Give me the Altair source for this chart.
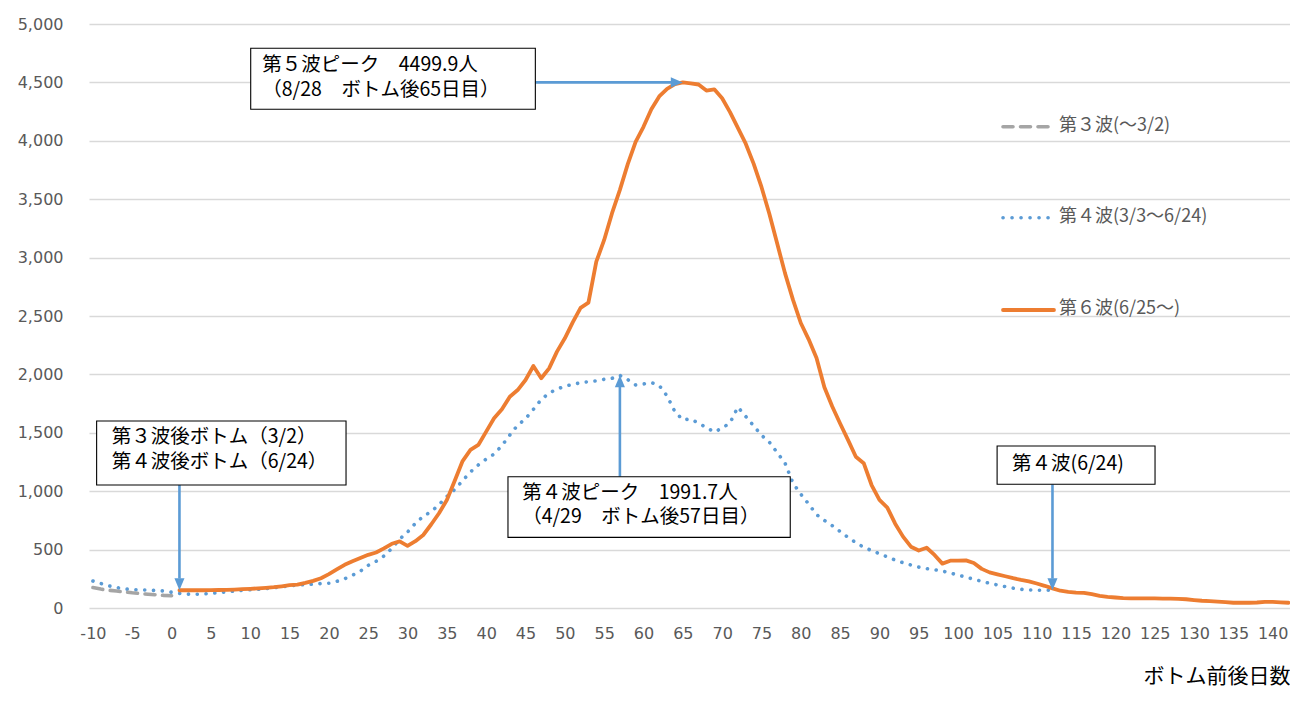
import altair as alt
import pandas as pd

# ---------------- data ----------------
days_w3 = list(range(-10, 1))
wave3 = [175, 162, 152, 145, 138, 130, 124, 118, 113, 108, 105]

days_w4 = list(range(-10, 113))
wave4 = [231, 210, 190, 175, 163, 158, 155, 153, 150, 146,
         135, 125, 119, 117, 120, 125, 132, 138, 145, 151,
         156, 160, 166, 173, 182, 190, 196, 200, 204, 209,
         212, 228, 250, 280, 315, 365, 400, 445, 510, 590,
         650, 725, 785, 825, 885, 955, 1015, 1090, 1165, 1225,
         1275, 1318, 1390, 1480, 1565, 1620, 1700, 1785, 1840, 1875,
         1898, 1915, 1928, 1938, 1945, 1958, 1966, 1991.7, 1955, 1910,
         1918, 1930, 1905, 1815, 1680, 1612, 1618, 1583, 1545, 1507,
         1540, 1585, 1720, 1640, 1560, 1480, 1420, 1330, 1240, 1070,
         975, 890, 800, 750, 705, 655, 605, 560, 520, 492,
         465, 437, 410, 388, 368, 350, 337, 328, 316, 300,
         282, 264, 246, 228, 212, 197, 183, 170, 160, 154,
         152, 152, 152]

days_w6 = list(range(1, 143))
wave6 = [152, 152, 152, 152, 153, 154, 156, 158, 161, 164,
         168, 173, 178, 186, 195, 200, 215, 232, 255, 290,
         330, 370, 400, 428, 455, 475, 510, 550, 570, 532,
         572, 625, 715, 811, 925, 1090, 1258, 1353, 1396, 1510,
         1624, 1701, 1809, 1866, 1952, 2072, 1967, 2052, 2195, 2309,
         2445, 2570, 2614, 2965, 3151, 3380, 3580, 3800, 3990, 4120,
         4270, 4380, 4445, 4485, 4499.9, 4492, 4482, 4430, 4441, 4364,
         4245, 4110, 3975, 3805, 3605, 3375, 3120, 2865, 2640, 2440,
         2300, 2140, 1890, 1725, 1580, 1440, 1295, 1240, 1053, 925,
         860, 722, 611, 525, 492, 516, 454, 380, 405, 405,
         408, 385, 335, 305, 288, 272, 255, 240, 228, 210,
         190, 168, 148, 138, 132, 130, 118, 103, 95, 90,
         85, 83, 83, 83, 82, 80, 80, 78, 75, 68,
         62, 58, 55, 50, 45, 45, 45, 47, 52, 52,
         48, 45]

x_ticks = list(range(-10, 141, 5))
y_ticks = list(range(0, 5001, 500))

legend_labels = ["第３波(～3/2)", "第４波(3/3～6/24)", "第６波(6/25～)"]
x_title = "ボトム前後日数"

# annotation boxes (data coordinates)
box_x1 = [-9.53, 42.77, 10.06, 104.96]
box_x2 = [22.18, 78.66, 46.25, 125.04]
box_y1 = [1053, 605, 4270, 1059]
box_y2 = [1601, 1124, 4792, 1387]

note_x = [-7.61, -7.61, 44.57, 44.57, 11.53, 11.53, 106.86]
note_y = [1461, 1253, 987, 782, 4649, 4435, 1230]
note_text = ["第３波後ボトム（3/2）", "第４波後ボトム（6/24）",
             "第４波ピーク　1991.7人", "（4/29　ボトム後57日目）",
             "第５波ピーク　4499.9人", "（8/28　ボトム後65日目）",
             "第４波(6/24)"]

# vertical arrows
varrow_x = [1, 57, 112]
varrow_from = [1053, 1124, 1059]
varrow_to = [252, 1892, 252]
# horizontal arrow
harrow_y = [4499.9]
harrow_from = [46.25]
harrow_to = [63.5]
# arrow tips
tip_down_x = [1, 112]
tip_down_y = [152, 152]
tip_up_x = [57]
tip_up_y = [1991.7]
tip_right_x = [65]
tip_right_y = [4499.9]

# ---------------- styles ----------------
ORANGE = "#ED7D31"
BLUE = "#5B9BD5"
GREY = "#A5A5A5"
LABEL = "#595959"
JP = "Noto Sans CJK JP"

XSCALE = alt.Scale(domain=[-10.5, 142.2], nice=False, zero=False)
YSCALE = alt.Scale(domain=[0, 5000], nice=False, zero=True)
XAXIS = alt.Axis(values=x_ticks, labelExpr="datum.value + ''", title=x_title,
                 grid=False, ticks=False, domain=False,
                 labelFont="DejaVu Sans", labelFontSize=16, labelColor=LABEL,
                 labelPadding=17, labelFlush=False, labelOverlap=False,
                 titleFont=JP, titleFontSize=21, titleFontWeight="normal",
                 titleColor="#000000", titleAnchor="end", titlePadding=24)
YAXIS = alt.Axis(values=y_ticks, format=",d", title=None,
                 grid=True, gridColor="#D9D9D9", gridWidth=1.3,
                 ticks=False, domain=False,
                 labelFont="DejaVu Sans", labelFontSize=16, labelColor=LABEL,
                 labelPadding=26)


def X(f):
    return alt.X(f"{f}:Q", scale=XSCALE, axis=XAXIS, title=x_title)


def Y(f):
    return alt.Y(f"{f}:Q", scale=YSCALE, axis=YAXIS, title=None)


df3 = pd.DataFrame({"day": days_w3, "value": wave3})
df4 = pd.DataFrame({"day": days_w4, "value": wave4})
df6 = pd.DataFrame({"day": days_w6, "value": wave6})

line4 = alt.Chart(df4).mark_line(color=BLUE, strokeWidth=3.6, strokeDash=[0.1, 8.7],
                                 strokeCap="round", strokeJoin="round").encode(
    x=X("day"), y=Y("value"))
line3 = alt.Chart(df3).mark_line(color=GREY, strokeWidth=3.6, strokeDash=[10, 7.5],
                                 strokeCap="round", strokeJoin="round").encode(
    x=X("day"), y=Y("value"))
line6 = alt.Chart(df6).mark_line(color=ORANGE, strokeWidth=3.8,
                                 strokeCap="round", strokeJoin="round").encode(
    x=X("day"), y=Y("value"))

varr = alt.Chart(pd.DataFrame({"day": varrow_x, "value": varrow_from, "value2": varrow_to})).mark_rule(
    color=BLUE, strokeWidth=2.6).encode(x=X("day"), y=Y("value"), y2="value2:Q")
harr = alt.Chart(pd.DataFrame({"day": harrow_from, "day2": harrow_to, "value": harrow_y})).mark_rule(
    color=BLUE, strokeWidth=2.6).encode(x=X("day"), x2="day2:Q", y=Y("value"))

HEAD = 576


def head(xs, ys, path):
    return alt.Chart(pd.DataFrame({"day": xs, "value": ys})).mark_point(
        shape=path, filled=True, size=HEAD, color=BLUE, opacity=1, strokeWidth=0).encode(
        x=X("day"), y=Y("value"))


heads = [
    head(tip_down_x, tip_down_y, "M0,0L-0.42,-1L0.42,-1Z"),
    head(tip_up_x, tip_up_y, "M0,0L-0.42,1L0.42,1Z"),
    head(tip_right_x, tip_right_y, "M0,0L-1,-0.42L-1,0.42Z"),
]

boxes = alt.Chart(pd.DataFrame({"day": box_x1, "day2": box_x2, "value": box_y1, "value2": box_y2})).mark_rect(
    fill="#FFFFFF", stroke="#000000", strokeWidth=1.1).encode(
    x=X("day"), x2="day2:Q", y=Y("value"), y2="value2:Q")

notes = alt.Chart(pd.DataFrame({"day": note_x, "value": note_y, "label": note_text})).mark_text(
    align="left", baseline="middle", font=JP, fontSize=19.5, color="#000000").encode(
    x=X("day"), y=Y("value"), text="label:N")

# ---------------- manual legend (pixel positions inside plot) ----------------
one = pd.DataFrame({"k": [0]})
leg = [
    alt.Chart(one).mark_rule(color=GREY, strokeWidth=3.6, strokeDash=[10, 7.5], strokeCap="round").encode(
        x=alt.value(914), x2=alt.value(961), y=alt.value(102.7)),
    alt.Chart(one).mark_rule(color=BLUE, strokeWidth=3.6, strokeDash=[0.1, 8.9], strokeCap="round").encode(
        x=alt.value(914), x2=alt.value(961), y=alt.value(193.7)),
    alt.Chart(one).mark_rule(color=ORANGE, strokeWidth=3.8, strokeCap="round").encode(
        x=alt.value(914), x2=alt.value(965), y=alt.value(286)),
]
for lbl, py in zip(legend_labels, [102, 193, 284.5]):
    leg.append(alt.Chart(one).mark_text(align="left", baseline="middle", font=JP, fontSize=18,
                                        color=LABEL, text=lbl).encode(
        x=alt.value(970), y=alt.value(py)))

chart = alt.layer(line4, line3, line6, varr, harr, *heads, boxes, notes, *leg).properties(
    width=1201, height=584,
    autosize=alt.AutoSizeParams(type="none"),
    padding={"left": 81, "top": 16, "right": 0, "bottom": 80},
    background="#FFFFFF",
).configure_view(stroke=None)

chart.save("out.html", embed_options={"renderer": "svg", "actions": False})
